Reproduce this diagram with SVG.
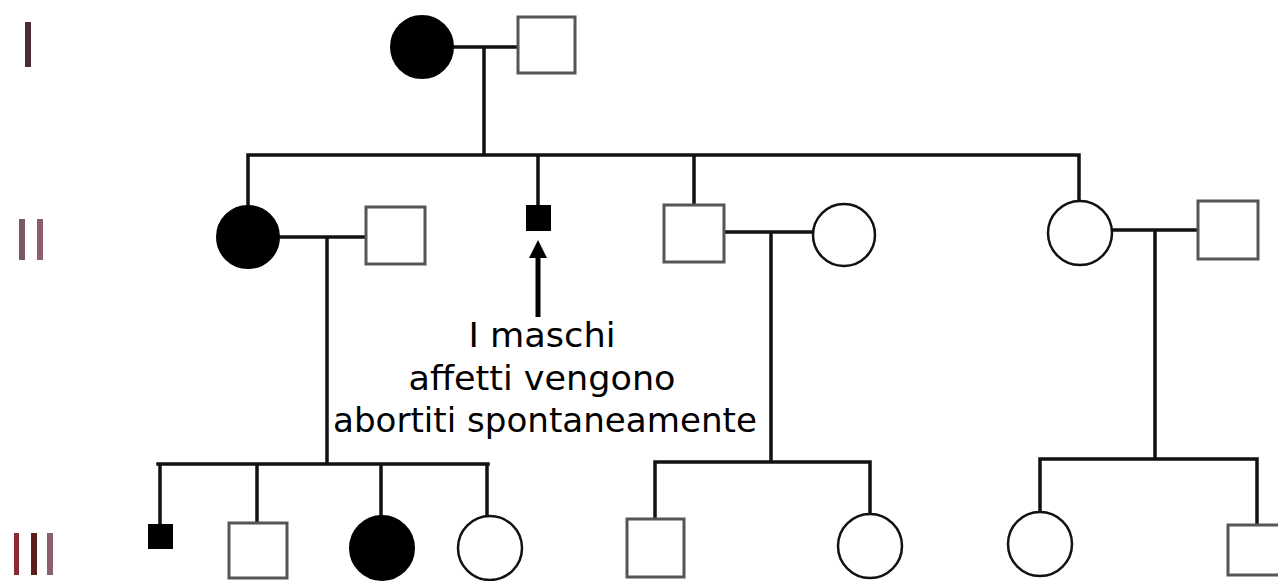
<svg xmlns="http://www.w3.org/2000/svg" width="1278" height="581" viewBox="0 0 1278 581">
<style>
.ln{stroke:#111;stroke-width:3.5;fill:none;stroke-linecap:square}
.sq{fill:#fff;stroke:#555;stroke-width:3}
.ci{fill:#fff;stroke:#111;stroke-width:2.5}
.af{fill:#000;stroke:#000;stroke-width:2}
.lbl{font-family:"Comic Sans MS","DejaVu Sans",sans-serif;font-size:34px;fill:#000;text-anchor:middle}
</style>
<rect width="1278" height="581" fill="#fff"/>
<g id="gen-labels">
<rect x="25" y="22" width="6" height="45" fill="#4a2c3a"/>
<rect x="19" y="219" width="6" height="41" fill="#7a5868"/>
<rect x="37" y="219" width="6" height="41" fill="#8a5f70"/>
<rect x="14" y="533" width="5" height="42" fill="#8b2a35"/>
<rect x="31" y="533" width="6" height="42" fill="#5a1c1c"/>
<rect x="47" y="533" width="6" height="42" fill="#8a6070"/>
</g>
<g id="connectors">
<path class="ln" d="M453 47H518M484 47V155M248 155H1079M248 155V206M538 155V205M694 155V205M1079 155V201"/>
<path class="ln" d="M279 237H366M327 237V464M158 464H488M160 464V525M257 464V523M381 464V516M487 464V516"/>
<path class="ln" d="M724 232H813M771 232V462M655 462H870M655 462V519M870 462V514"/>
<path class="ln" d="M1112 230H1198M1155 230V459M1040 459H1257M1040 459V512M1257 459V525"/>
<path d="M538 317V256" stroke="#000" stroke-width="5"/>
<polygon points="538,240 529,258 547,258" fill="#000"/>
</g>
<g id="I-1"><circle class="af" cx="422" cy="47" r="31"/></g>
<g id="I-2"><rect class="sq" x="518" y="17" width="57" height="56"/></g>
<g id="II-1"><circle class="af" cx="248" cy="237" r="31"/></g>
<g id="II-2"><rect class="sq" x="366" y="207" width="59" height="57"/></g>
<g id="II-aborted"><rect class="af" x="527" y="206" width="23" height="24"/></g>
<g id="II-3"><rect class="sq" x="664" y="205" width="60" height="57"/></g>
<g id="II-4"><circle class="ci" cx="844" cy="235" r="31"/></g>
<g id="II-5"><circle class="ci" cx="1080" cy="233" r="32"/></g>
<g id="II-6"><rect class="sq" x="1198" y="201" width="60" height="58"/></g>
<g id="III-1"><rect class="af" x="149" y="525" width="23" height="23"/></g>
<g id="III-2"><rect class="sq" x="229" y="523" width="58" height="55"/></g>
<g id="III-3"><circle class="af" cx="382" cy="548" r="32"/></g>
<g id="III-4"><circle class="ci" cx="490" cy="548" r="32"/></g>
<g id="III-5"><rect class="sq" x="627" y="519" width="57" height="58"/></g>
<g id="III-6"><circle class="ci" cx="870" cy="546" r="32"/></g>
<g id="III-7"><circle class="ci" cx="1040" cy="544" r="32"/></g>
<g id="III-8"><rect class="sq" x="1228" y="525" width="58" height="50"/></g>
<g id="note">
<text class="lbl" x="542" y="347" textLength="147" lengthAdjust="spacingAndGlyphs">I maschi</text>
<text class="lbl" x="542" y="390" textLength="267" lengthAdjust="spacingAndGlyphs">affetti vengono</text>
<text class="lbl" x="545" y="432" textLength="424" lengthAdjust="spacingAndGlyphs">abortiti spontaneamente</text>
</g>
</svg>
